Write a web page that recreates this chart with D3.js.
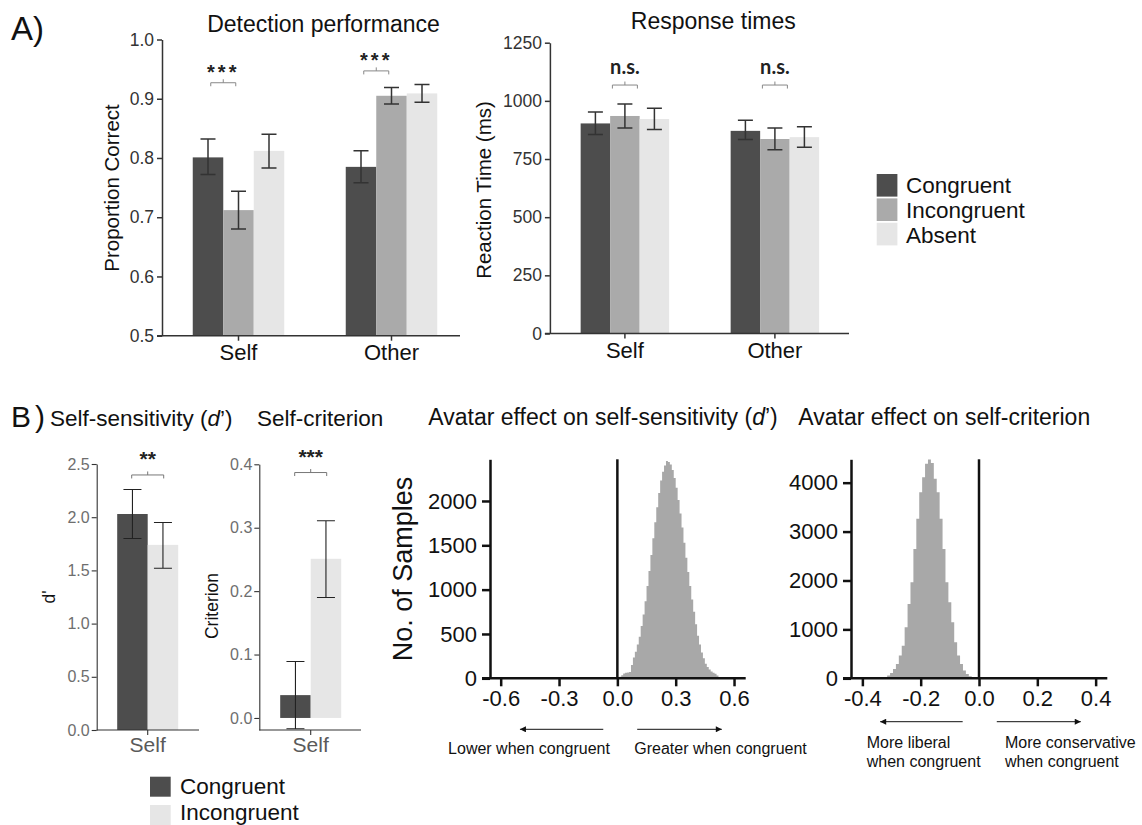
<!DOCTYPE html>
<html>
<head>
<meta charset="utf-8">
<script src="https://cdn.jsdelivr.net/npm/d3@7"></script>
<style>
body { margin: 0; background: #fff; }
svg text { font-family: "Liberation Sans", Arial, Helvetica, sans-serif; }
</style>
</head>
<body>
<script>
// ---- data ----
const groups = ["Self", "Other"]
const conditions = ["Congruent", "Incongruent", "Absent"]

// detection performance (proportion correct), rows = groups
const accMean = [[0.801, 0.712, 0.812], [0.785, 0.905, 0.909]]
const accLow = [[0.772, 0.680, 0.783], [0.758, 0.891, 0.894]]
const accHigh = [[0.832, 0.744, 0.840], [0.812, 0.919, 0.924]]
const accTicks = [0.5, 0.6, 0.7, 0.8, 0.9, 1.0]
const accSig = ["***", "***"]
const accSigLevel = [0.927, 0.947]

// response times (ms)
const rtMean = [[903, 935, 922], [871, 836, 844]]
const rtLow = [[855, 883, 877], [834, 790, 801]]
const rtHigh = [[952, 986, 968], [917, 883, 889]]
const rtTicks = [0, 250, 500, 750, 1000, 1250]
const rtSig = ["n.s.", "n.s."]
const rtSigLevel = [1068, 1068]

// panel B
const bConditions = ["Congruent", "Incongruent"]
const dMean = [2.03, 1.74]
const dLow = [1.80, 1.52]
const dHigh = [2.26, 1.95]
const dTicks = [0, 0.5, 1.0, 1.5, 2.0, 2.5]
const critMean = [0.036, 0.251]
const critLow = [-0.017, 0.190]
const critHigh = [0.089, 0.311]
const critTicks = [0, 0.1, 0.2, 0.3, 0.4]

// bootstrap histograms (bin width 0.01)
const dBinStart = 0.01
const dCounts = [18, 35, 55, 62, 66, 72, 150, 235, 300, 380, 470, 590, 720, 870, 1040, 1210,
  1390, 1580, 1760, 1930, 2090, 2230, 2330, 2400, 2450, 2440, 2410, 2350, 2260, 2150, 2010,
  1860, 1700, 1530, 1360, 1200, 1040, 890, 750, 610, 480, 380, 290, 225, 165, 128, 98, 78,
  62, 50, 32, 15]
const dXTicks = [-0.6, -0.3, 0, 0.3, 0.6]
const dYTicks = [0, 500, 1000, 1500, 2000]

const cBinStart = -0.325
const cCounts = [25, 55, 109, 191, 293, 464, 668, 1043, 1521, 1964, 2646, 3260, 3806, 4112,
  4385, 4474, 4400, 4078, 3806, 3260, 2646, 1964, 1555, 1146, 737, 464, 293, 157, 89, 41, 20, 10]
const cXTicks = [-0.4, -0.2, 0, 0.2, 0.4]
const cYTicks = [0, 1000, 2000, 3000, 4000]
const binWidth = 0.01

// ---- page ----
let svg = d3.select("body").append("svg")
    .attr("width", 1142)
    .attr("height", 825)

svg.append("rect").attr("width", 1142).attr("height", 825).attr("fill", "#fff")

let shade = d3.scaleOrdinal()
    .domain(conditions)
    .range(["#4d4d4d", "#aaaaaa", "#e6e6e6"])
let shadeB = d3.scaleOrdinal()
    .domain(bConditions)
    .range(["#4d4d4d", "#e6e6e6"])

let label = (x, y, s, size, extra) => {
    let t = svg.append("text")
        .attr("x", x)
        .attr("y", y)
        .attr("font-size", size)
        .attr("fill", "#111")
        .text(s)
    if (extra) extra(t)
    return t
}

let bracket = (g, x1, x2, y, color) => {
    let xm = (x1 + x2) / 2
    g.append("path")
        .attr("d", `M${x1},${y + 3.5}V${y}H${x2}V${y + 3.5}M${xm},${y}V${y - 3.5}`)
        .attr("fill", "none")
        .attr("stroke", color)
        .attr("stroke-width", 1)
}

let errBar = (g, cx, y1, y2, cap, color, sw) => {
    g.append("path")
        .attr("d", `M${cx - cap},${y1}H${cx + cap}M${cx},${y1}V${y2}M${cx - cap},${y2}H${cx + cap}`)
        .attr("fill", "none")
        .attr("stroke", color)
        .attr("stroke-width", sw)
}

// ---- panel A grouped bars ----
function panelA(cfg) {
    let g = svg.append("g")
    let y = d3.scaleLinear().domain(cfg.yDomain).range(cfg.yRange)
    let x0 = d3.scaleBand().domain(groups).range(cfg.xRange)
    let x1 = d3.scaleBand().domain(conditions).range([-1.5 * cfg.bw, 1.5 * cfg.bw])

    groups.forEach((grp, i) => {
        let cx = x0(grp) + x0.bandwidth() / 2
        g.append("g").selectAll("rect")
            .data(conditions)
            .enter()
            .append("rect")
            .attr("x", c => cx + x1(c))
            .attr("width", x1.bandwidth())
            .attr("y", (c, j) => y(cfg.mean[i][j]))
            .attr("height", (c, j) => y(cfg.yDomain[0]) - y(cfg.mean[i][j]))
            .attr("fill", c => shade(c))
        conditions.forEach((c, j) => {
            let bx = cx + x1(c) + x1.bandwidth() / 2
            errBar(g, bx, y(cfg.high[i][j]), y(cfg.low[i][j]), 7.5, "#333", 1.5)
        })
        // significance bracket
        let bc = cx + cfg.sigShift
        let by = y(cfg.sigLevel[i])
        bracket(g, bc - 12.5, bc + 12.5, by, "#888")
        g.append("text")
            .attr("x", bc)
            .attr("y", by + cfg.sigDy)
            .attr("text-anchor", "middle")
            .attr("font-size", cfg.sigSize)
            .attr("font-weight", "bold")
            .attr("letter-spacing", cfg.sigSpacing)
            .attr("fill", "#222")
            .style("font-family", cfg.sigFont)
            .text(cfg.sig[i])
    })

    // y axis
    let yAxis = g.append("g")
        .attr("transform", `translate(${cfg.xRange[0]},0)`)
        .call(d3.axisLeft(y).tickValues(cfg.ticks).tickFormat(cfg.fmt).tickSize(5).tickSizeOuter(0).tickPadding(3))
    yAxis.selectAll("text").attr("font-size", 17.5).attr("fill", "#333").style("font-family", null)
    yAxis.selectAll("line, path").attr("stroke", "#333").attr("stroke-width", 1.5)

    // x axis
    let xAxis = g.append("g")
        .attr("transform", `translate(0,${cfg.yRange[0]})`)
        .call(d3.axisBottom(x0).tickSize(5).tickPadding(4))
    xAxis.select(".domain").remove()
    xAxis.selectAll("text").attr("font-size", 22).attr("fill", "#111")
    xAxis.selectAll("line").attr("stroke", "#333").attr("stroke-width", 1.5)
    g.append("line")
        .attr("x1", cfg.xRange[0] - 5)
        .attr("x2", cfg.xEnd)
        .attr("y1", cfg.yRange[0])
        .attr("y2", cfg.yRange[0])
        .attr("stroke", "#333")
        .attr("stroke-width", 1.5)

    // titles
    label(cfg.titleX, cfg.titleY, cfg.title, 23, t => t.attr("text-anchor", "middle"))
    label(0, 0, cfg.yLabel, 20.5, t => t.attr("text-anchor", "middle")
        .attr("transform", `translate(${cfg.yLabelX},${cfg.yLabelY}) rotate(-90)`))
}

panelA({
    yDomain: [0.5, 1.0], yRange: [335.7, 39.5], xRange: [162, 468], xEnd: 460, bw: 30.5,
    mean: accMean, low: accLow, high: accHigh, ticks: accTicks, fmt: d3.format(".1f"),
    sig: accSig, sigLevel: accSigLevel, sigShift: -15.25, sigDy: -4, sigSize: 20,
    sigSpacing: 3, sigFont: null,
    title: "Detection performance", titleX: 323.5, titleY: 31.5,
    yLabel: "Proportion Correct", yLabelX: 118.5, yLabelY: 188
})

panelA({
    yDomain: [0, 1250], yRange: [333.5, 42.7], xRange: [549.9, 849.9], xEnd: 849, bw: 29.5,
    mean: rtMean, low: rtLow, high: rtHigh, ticks: rtTicks, fmt: d3.format("d"),
    sig: rtSig, sigLevel: rtSigLevel, sigShift: 0, sigDy: -11.5, sigSize: 20,
    sigSpacing: 0, sigFont: "Lato, 'Open Sans', sans-serif",
    title: "Response times", titleX: 713.3, titleY: 28.5,
    yLabel: "Reaction Time (ms)", yLabelX: 490.7, yLabelY: 190
})

label(11, 40, "A)", 33)

// legend A
let legA = svg.append("g")
legA.selectAll("rect")
    .data(conditions)
    .enter()
    .append("rect")
    .attr("x", 876.7)
    .attr("y", (d, i) => 174 + i * 24.4)
    .attr("width", 20.7)
    .attr("height", 22.6)
    .attr("fill", d => shade(d))
legA.selectAll("text")
    .data(conditions)
    .enter()
    .append("text")
    .attr("x", 906)
    .attr("y", (d, i) => 193.3 + i * 24.8)
    .attr("font-size", 22.5)
    .attr("fill", "#111")
    .text(d => d)

// ---- panel B small bar charts ----
function panelB(cfg) {
    let g = svg.append("g")
    let y = d3.scaleLinear().domain(cfg.yDomain).range(cfg.yRange)
    let x0 = d3.scaleBand().domain(["Self"]).range(cfg.xRange)
    let x1 = d3.scaleBand().domain(bConditions).range([-30.5, 30.5])
    let cx = x0("Self") + x0.bandwidth() / 2

    g.selectAll("rect")
        .data(bConditions)
        .enter()
        .append("rect")
        .attr("x", c => cx + x1(c))
        .attr("width", x1.bandwidth())
        .attr("y", (c, j) => y(Math.max(0, cfg.mean[j])))
        .attr("height", (c, j) => Math.abs(y(0) - y(cfg.mean[j])))
        .attr("fill", c => shadeB(c))
    bConditions.forEach((c, j) => {
        let bx = cx + x1(c) + x1.bandwidth() / 2
        errBar(g, bx, y(cfg.high[j]), y(cfg.low[j]), 9, "#222", 1.1)
    })
    let by = y(cfg.sigLevel)
    bracket(g, cx - 16, cx + 16, by, "#777")
    g.append("text")
        .attr("x", cx)
        .attr("y", by - 9)
        .attr("text-anchor", "middle")
        .attr("font-size", 21)
        .attr("font-weight", "bold")
        .attr("fill", "#222")
        .text(cfg.sig)

    let yAxis = g.append("g")
        .attr("transform", `translate(${cfg.xRange[0]},0)`)
        .call(d3.axisLeft(y).tickValues(cfg.ticks).tickFormat(d3.format(".1f")).tickSize(5).tickSizeOuter(0).tickPadding(2))
    yAxis.selectAll("text").attr("font-size", 16).attr("fill", "#6e6e6e")
    yAxis.selectAll("line, path").attr("stroke", "#333").attr("stroke-width", 1.1)

    let xAxis = g.append("g")
        .attr("transform", `translate(0,${cfg.axisY})`)
        .call(d3.axisBottom(x0).tickSize(5).tickPadding(2))
    xAxis.select(".domain").remove()
    xAxis.selectAll("text").attr("font-size", 21).attr("fill", "#5a5a5a")
    xAxis.selectAll("line").attr("stroke", "#333").attr("stroke-width", 1.1)
    g.append("line")
        .attr("x1", cfg.xRange[0])
        .attr("x2", cfg.xEnd)
        .attr("y1", cfg.axisY)
        .attr("y2", cfg.axisY)
        .attr("stroke", "#333")
        .attr("stroke-width", 1.1)

    label(0, 0, cfg.yLabel, 17.5, t => t.attr("text-anchor", "middle")
        .attr("transform", `translate(${cfg.yLabelX},${cfg.yLabelY}) rotate(-90)`))
}

panelB({
    yDomain: [0, 2.5], yRange: [730, 464], xRange: [96.7, 198.7], xEnd: 199, axisY: 730,
    mean: dMean, low: dLow, high: dHigh, ticks: dTicks, sig: "**", sigLevel: 2.397,
    yLabel: "d'", yLabelX: 55, yLabelY: 597
})
panelB({
    yDomain: [-0.019, 0.4], yRange: [730, 464.3], xRange: [259.3, 362.1], xEnd: 361, axisY: 730,
    mean: critMean, low: critLow, high: critHigh, ticks: critTicks, sig: "***", sigLevel: 0.387,
    yLabel: "Criterion", yLabelX: 218.3, yLabelY: 606
})

let bLabel = label(11, 426.5, "B", 30)
bLabel.append("tspan").attr("dx", 4).text(")")
let t1 = label(50, 426, "Self-sensitivity (", 22.5)
t1.append("tspan").attr("font-style", "italic").text("d")
t1.append("tspan").text("’)")
label(257, 426, "Self-criterion", 22.5)

// legend B
let legB = svg.append("g")
legB.selectAll("rect")
    .data(bConditions)
    .enter()
    .append("rect")
    .attr("x", 150)
    .attr("y", (d, i) => 776.7 + i * 28.3)
    .attr("width", 20.7)
    .attr("height", 20)
    .attr("fill", d => shadeB(d))
legB.selectAll("text")
    .data(bConditions)
    .enter()
    .append("text")
    .attr("x", 180)
    .attr("y", (d, i) => 793.5 + i * 26.2)
    .attr("font-size", 22.5)
    .attr("fill", "#111")
    .text(d => d)

// ---- histograms ----
svg.append("defs").append("marker")
    .attr("id", "arrow")
    .attr("viewBox", "0 0 10 10")
    .attr("refX", 10)
    .attr("refY", 5)
    .attr("markerUnits", "userSpaceOnUse")
    .attr("markerWidth", 8)
    .attr("markerHeight", 6)
    .attr("orient", "auto")
    .append("path")
    .attr("d", "M0,0L10,5L0,10Z")
    .attr("fill", "#111")

function histogram(cfg) {
    let g = svg.append("g")
    let x = d3.scaleLinear().domain(cfg.xDomain).range(cfg.xRange)
    let y = d3.scaleLinear().domain([0, cfg.yMax]).range([678.3, 459.3])
    let pts = cfg.counts.map((c, i) => [cfg.start + i * binWidth, c])
    pts.push([cfg.start + cfg.counts.length * binWidth, cfg.counts[cfg.counts.length - 1]])
    let area = d3.area()
        .curve(d3.curveStepAfter)
        .x(d => x(d[0]))
        .y0(y(0))
        .y1(d => y(d[1]))
    g.append("path")
        .attr("d", area(pts))
        .attr("fill", "#a8a8a8")

    let yAxis = g.append("g")
        .attr("transform", `translate(${cfg.xRange[0]},0)`)
        .call(d3.axisLeft(y).tickValues(cfg.yTicks).tickFormat(d3.format("d")).tickSize(8).tickSizeOuter(0).tickPadding(5))
    yAxis.selectAll("text").attr("font-size", 22).attr("fill", "#111")
    yAxis.selectAll("line, path").attr("stroke", "#111").attr("stroke-width", 2.5)

    let xAxis = g.append("g")
        .attr("transform", `translate(0,${y(0)})`)
        .call(d3.axisBottom(x).tickValues(cfg.xTicks).tickFormat(d => d.toFixed(1)).tickSize(8).tickPadding(4))
    xAxis.select(".domain").remove()
    xAxis.selectAll("text").attr("font-size", 22).attr("fill", "#111")
    xAxis.selectAll("line").attr("stroke", "#111").attr("stroke-width", 2.5)
    g.append("line")
        .attr("x1", cfg.xRange[0] - 8)
        .attr("x2", cfg.xRange[1])
        .attr("y1", y(0))
        .attr("y2", y(0))
        .attr("stroke", "#111")
        .attr("stroke-width", 2.5)
    // zero reference
    g.append("line")
        .attr("x1", x(0))
        .attr("x2", x(0))
        .attr("y1", y(cfg.yMax))
        .attr("y2", y(0))
        .attr("stroke", "#111")
        .attr("stroke-width", 2.5)

    // direction arrows
    cfg.arrows.forEach(a => {
        g.append("line")
            .attr("x1", x(a[0]))
            .attr("x2", x(a[1]))
            .attr("y1", cfg.arrowY)
            .attr("y2", cfg.arrowY)
            .attr("stroke", "#111")
            .attr("stroke-width", 1)
            .attr("marker-end", "url(#arrow)")
    })
    cfg.captions.forEach(c => {
        let t = g.append("text")
            .attr("x", x(c.at))
            .attr("y", cfg.captionY)
            .attr("text-anchor", c.anchor)
            .attr("font-size", 16)
            .attr("fill", "#111")
        c.lines.forEach((ln, k) => {
            t.append("tspan").attr("x", x(c.at)).attr("dy", k ? 18.4 : 0).text(ln)
        })
    })
    label(cfg.titleX, 425, cfg.title[0], 23, t => {
        if (cfg.title[1]) {
            t.append("tspan").attr("font-style", "italic").text(cfg.title[1])
            t.append("tspan").text(cfg.title[2])
        }
    })
}

histogram({
    xDomain: [-0.655, 0.66], xRange: [490, 745.7], yMax: 2470,
    counts: dCounts, start: dBinStart, xTicks: dXTicks, yTicks: dYTicks,
    arrows: [[-0.0725, -0.501], [0.102, 0.537]], arrowY: 729.3, captionY: 754,
    captions: [
        { at: -0.038, anchor: "end", lines: ["Lower when congruent"] },
        { at: 0.087, anchor: "start", lines: ["Greater when congruent"] }
    ],
    titleX: 428.3, title: ["Avatar effect on self-sensitivity (", "d", "’)"]
})

histogram({
    xDomain: [-0.439, 0.44], xRange: [851, 1107.3], yMax: 4478,
    counts: cCounts, start: cBinStart, xTicks: cXTicks, yTicks: cYTicks,
    arrows: [[-0.056, -0.339], [0.061, 0.349]], arrowY: 721.7, captionY: 748.3,
    captions: [
        { at: -0.385, anchor: "start", lines: ["More liberal", "when congruent"] },
        { at: 0.089, anchor: "start", lines: ["More conservative", "when congruent"] }
    ],
    titleX: 798.3, title: ["Avatar effect on self-criterion"]
})

label(0, 0, "No. of Samples", 27, t => t.attr("text-anchor", "middle")
    .attr("transform", "translate(412.3,569) rotate(-90)"))
</script>
</body>
</html>
